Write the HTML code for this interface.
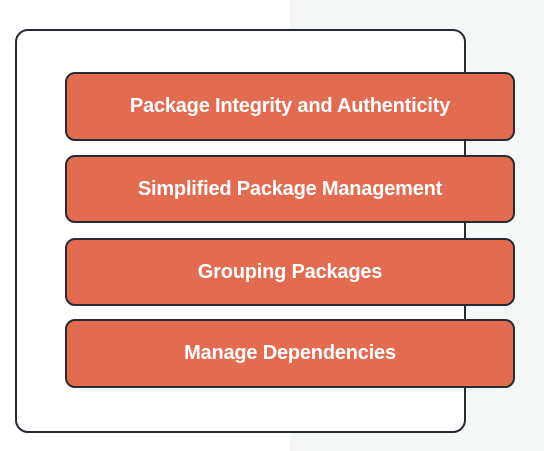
<!DOCTYPE html>
<html><head><style>
body{margin:0;width:544px;height:451px;position:relative;background:#fff;overflow:hidden;font-family:"Liberation Sans",sans-serif}
.g{position:absolute;left:290px;top:0;width:254px;height:451px;background:#f5f6f6}
.o{position:absolute;left:15px;top:29px;width:447px;height:400px;border:2px solid #262a35;border-radius:13px;background:#fff}
.b{position:absolute;left:65px;width:446px;border:2px solid #262a35;border-radius:10px;background:#e36c50;color:#fff;font-weight:bold;font-size:20px;letter-spacing:-0.2px;display:flex;align-items:center;justify-content:center}
</style></head><body>
<div class="g"></div>
<div class="o"></div>
<div class="b" style="top:72px;height:65px">Package Integrity and Authenticity</div>
<div class="b" style="top:155px;height:64px">Simplified Package Management</div>
<div class="b" style="top:238px;height:64px">Grouping Packages</div>
<div class="b" style="top:319px;height:65px">Manage Dependencies</div>
</body></html>
